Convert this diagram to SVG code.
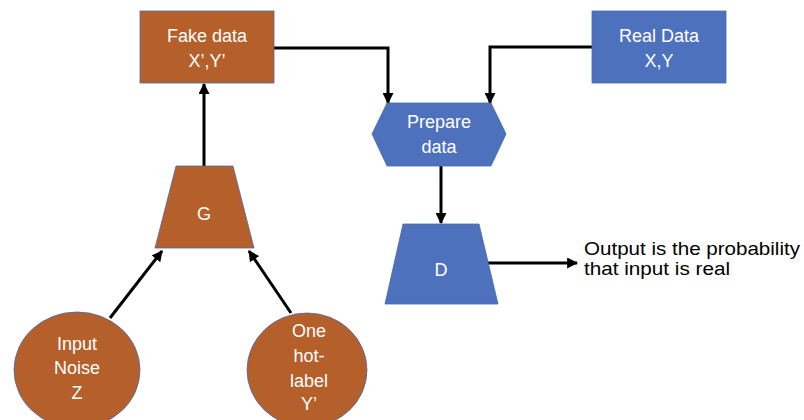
<svg xmlns="http://www.w3.org/2000/svg" width="804" height="420" viewBox="0 0 804 420">
  <defs>
    <marker id="arrow" viewBox="0 0 10 10" refX="9" refY="5" markerWidth="11" markerHeight="11" markerUnits="userSpaceOnUse" orient="auto">
      <path d="M0,0 L10,5 L0,10 z" fill="#000"/>
    </marker>
    <style>
      .gen { fill: #B55F2B; stroke: #4A6AA8; stroke-width: 0.8; }
      .disc { fill: #4E71BE; stroke: #4A6AA8; stroke-width: 0.8; }
      .lbl { font-family: "Liberation Sans", Arial, sans-serif; font-size: 18px; fill: #FFFFFF; text-anchor: middle; }
      .note { font-family: "Liberation Sans", Arial, sans-serif; font-size: 18.5px; fill: #000000; }
      .conn { fill: none; stroke: #000; stroke-width: 3; marker-end: url(#arrow); }
    </style>
  </defs>

  <rect width="804" height="420" fill="#FFFFFF"/>

  <!-- connectors -->
  <g id="connectors">
    <path class="conn" d="M274,48 H388 V103"/>
    <path class="conn" d="M592,47 H490 V103"/>
    <path class="conn" d="M204,166 V84"/>
    <path class="conn" d="M441,166 V223"/>
    <path class="conn" d="M488,263 H577"/>
    <path class="conn" d="M110,318 L162,251"/>
    <path class="conn" d="M291,313 L249,251"/>
  </g>

  <!-- generated samples -->
  <g id="fake-data">
    <rect class="gen" x="140" y="11" width="134" height="72"/>
    <text class="lbl" x="207" y="42">Fake data</text>
    <text class="lbl" x="207" y="67">X’,Y’</text>
  </g>

  <!-- real samples -->
  <g id="real-data">
    <rect class="disc" x="592" y="11" width="134" height="72"/>
    <text class="lbl" x="659" y="42">Real Data</text>
    <text class="lbl" x="659" y="67">X,Y</text>
  </g>

  <!-- data preparation step -->
  <g id="prepare-data">
    <polygon class="disc" points="372,134 387,103 491,103 506,134 491,166 387,166"/>
    <text class="lbl" x="439" y="128">Prepare</text>
    <text class="lbl" x="439" y="153">data</text>
  </g>

  <!-- generator -->
  <g id="generator">
    <polygon class="gen" points="176,166 233,166 254,248 155,248"/>
    <text class="lbl" x="204" y="220">G</text>
  </g>

  <!-- discriminator -->
  <g id="discriminator">
    <polygon class="disc" points="403,224 479,224 498,304 385,304"/>
    <text class="lbl" x="441" y="276">D</text>
  </g>

  <!-- discriminator output description -->
  <g id="output-note">
    <text class="note" x="584" y="255" textLength="216" lengthAdjust="spacingAndGlyphs">Output is the probability</text>
    <text class="note" x="584" y="275" textLength="146" lengthAdjust="spacingAndGlyphs">that input is real</text>
  </g>

  <!-- noise input -->
  <g id="input-noise">
    <ellipse class="gen" cx="77" cy="370" rx="63" ry="58"/>
    <text class="lbl" x="77" y="350">Input</text>
    <text class="lbl" x="77" y="374">Noise</text>
    <text class="lbl" x="77" y="399">Z</text>
  </g>

  <!-- label input -->
  <g id="one-hot-label">
    <ellipse class="gen" cx="307" cy="370" rx="60" ry="57"/>
    <text class="lbl" x="309" y="337">One</text>
    <text class="lbl" x="309" y="362">hot-</text>
    <text class="lbl" x="309" y="387">label</text>
    <text class="lbl" x="309" y="410">Y’</text>
  </g>
</svg>
